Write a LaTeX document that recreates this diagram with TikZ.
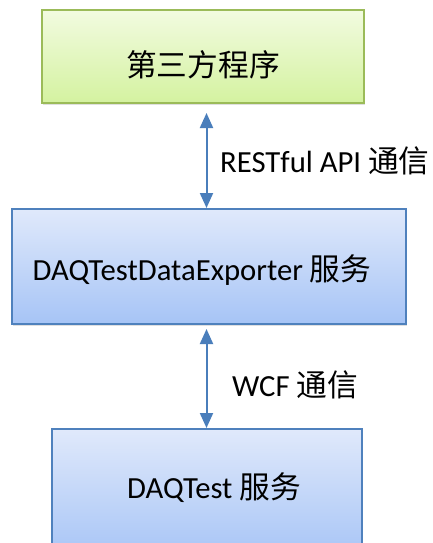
\documentclass[tikz,border=0pt]{standalone}
\usepackage{fontspec}
\setmainfont{Carlito}
\newfontfamily\cjk{Noto Sans CJK SC}
\usetikzlibrary{arrows.meta,shadows}
\definecolor{grnTop}{HTML}{F2FBE0}
\definecolor{grnBot}{HTML}{D4F2A0}
\definecolor{grnLine}{HTML}{9BBB59}
\definecolor{bluTop}{HTML}{E0E9FB}
\definecolor{bluBot}{HTML}{A6C4F6}
\definecolor{bluLine}{HTML}{4F81BD}
\definecolor{arrCol}{HTML}{4A7EBB}
\tikzset{
  greenbox/.style={draw=grnLine, line width=1.8pt, top color=grnTop, bottom color=grnBot,
    drop shadow={opacity=0.25, shadow xshift=1pt, shadow yshift=-2pt}},
  bluebox/.style={draw=bluLine, line width=1.8pt, top color=bluTop, bottom color=bluBot,
    drop shadow={opacity=0.25, shadow xshift=1pt, shadow yshift=-2pt}},
  lbl/.style={font=\fontsize{30.7}{34}\selectfont, text=black, inner sep=0pt},
  link/.style={draw=arrCol, line width=2pt, {Triangle[width=13pt,length=15pt]}-{Triangle[width=13pt,length=15pt]}}
}
\begin{document}
\begin{tikzpicture}[x=1pt,y=1pt]
\useasboundingbox (0,0) rectangle (432,-543);
\fill[greenbox] (42,-10) rectangle (364,-103);
\fill[bluebox] (12,-209) rectangle (406,-324);
\fill[bluebox] (52,-429) rectangle (362,-560);
\coordinate (topbot) at (206.5,-113);
\coordinate (midtop) at (206.5,-208);
\coordinate (midbot) at (206.5,-329);
\coordinate (bottop) at (206.5,-428);
\node[lbl] (t1) at (203,-65) {{\cjk 第三方程序}};
\node[lbl] (t2) at (202,-270) {DAQTestDataExporter {\cjk 服务}};
\node[lbl] (t3) at (214,-488) {DAQTest {\cjk 服务}};
\draw[link] (topbot) -- (midtop);
\draw[link] (midbot) -- (bottop);
\node[lbl, anchor=west] (l1) at (220,-161) {RESTful API {\cjk 通信}};
\node[lbl, anchor=west] (l2) at (232,-385) {WCF {\cjk 通信}};
\end{tikzpicture}
\end{document}
